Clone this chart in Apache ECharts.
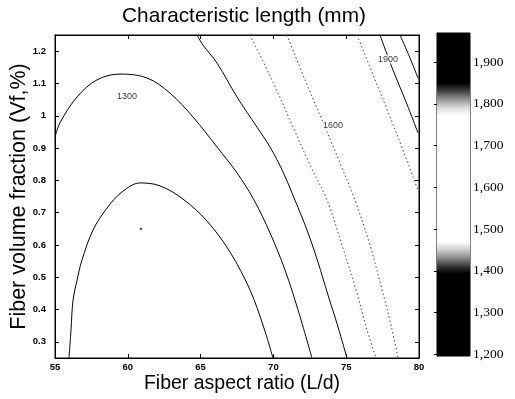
<!DOCTYPE html>
<html>
<head>
<meta charset="utf-8">
<script src="https://cdn.jsdelivr.net/npm/echarts@6/dist/echarts.min.js"></script>
<style>html,body{margin:0;padding:0;background:#fff}#c{width:515px;height:399px}</style>
</head>
<body>
<div id="c"></div>
<script>
// ---- data ----
const titleText = 'Characteristic length (mm)';
const xName = 'Fiber aspect ratio (L/d)';
const yName = 'Fiber volume fraction (Vf,%)';
const xTicks = [55, 60, 65, 70, 75, 80];
const yTicks = [0.3, 0.4, 0.5, 0.6, 0.7, 0.8, 0.9, 1.0, 1.1, 1.2];
const cbTicks = [1200, 1300, 1400, 1500, 1600, 1700, 1800, 1900];
const cbRange = [1196, 1970];

// contour levels: [L/d, Vf] pairs
const c1200 = [[55.96,0.25],[56.10,0.337],[56.24,0.43],[56.51,0.49],[56.85,0.553],[57.61,0.646],[58.57,0.714],[59.60,0.764],[60.84,0.792],[62.21,0.783],[63.79,0.742],[65.44,0.674],[67.02,0.578],[68.39,0.461],[69.35,0.343],[69.97,0.25]];
const c1300 = [[55.0,0.934],[55.34,0.978],[56.51,1.058],[57.88,1.111],[59.46,1.129],[61.32,1.117],[62.90,1.070],[64.48,0.996],[66.13,0.903],[67.50,0.823],[68.67,0.739],[69.77,0.637],[70.80,0.522],[71.69,0.399],[72.65,0.25]];
const c1400 = [[64.75,1.25],[65.16,1.219],[66.13,1.163],[67.50,1.058],[68.87,0.965],[69.77,0.903],[70.66,0.826],[71.48,0.739],[72.31,0.646],[73.06,0.547],[73.75,0.445],[74.44,0.346],[75.05,0.25]];
const c1500 = [[68.39,1.25],[69.90,1.111],[71.35,0.965],[72.51,0.848],[73.68,0.739],[74.71,0.600],[75.67,0.461],[76.43,0.337],[77.05,0.25]];
const c1600 = [[70.93,1.25],[72.17,1.111],[73.54,0.965],[74.57,0.854],[75.60,0.739],[76.63,0.600],[77.46,0.461],[78.08,0.352],[78.56,0.25]];
const c1700 = [[75.74,1.25],[76.77,1.135],[77.87,1.012],[78.97,0.885],[80.0,0.761]];
const c1800 = [[77.32,1.25],[78.21,1.142],[79.11,1.043],[79.93,0.947]];
const c1900 = [[78.70,1.25],[79.38,1.179],[79.93,1.117]];
const minPoint = [[60.9, 0.65]];
const contourLabels = [['1300', 59.95, 1.061], ['1600', 74.09, 0.969], ['1900', 77.87, 1.175]];

// colour bar grey scale stops: [value, grey]
const cbStops = [[1970,'#000000'],[1850,'#000000'],[1830,'#444444'],[1810,'#999999'],[1790,'#dddddd'],[1772,'#ffffff'],[1470,'#ffffff'],[1450,'#cccccc'],[1430,'#888888'],[1410,'#333333'],[1393,'#000000'],[1196,'#000000']];

// ---- chart ----
const chart = echarts.init(document.getElementById('c'), null, {renderer: 'canvas'});
const sans = 'Liberation Sans, Arial, sans-serif';
const serif = 'Liberation Serif, Times New Roman, serif';
const fmtComma = v => String(v).replace(/\B(?=(\d{3})+(?!\d))/g, ',');

const solid = {color: '#000', width: 1, type: 'solid'};
const faint = {color: '#444', width: 1, type: [1.5, 2.5]};
function contour(name, data, style) {
  return {name, type: 'line', data, xAxisIndex: 0, yAxisIndex: 0, smooth: 0.35,
    showSymbol: false, symbol: 'none', lineStyle: style, silent: true, z: 3};
}
const span = cbRange[1] - cbRange[0];
const gradStops = cbStops.map(s => ({offset: (cbRange[1] - s[0]) / span, color: s[1]}));

const tickStyle = {show: true, inside: true, length: 4, lineStyle: {color: '#000', width: 1}};
const lineStyle = {show: true, lineStyle: {color: '#000', width: 1}};

chart.setOption({
  animation: false,
  backgroundColor: '#fff',
  title: {text: titleText, left: 239, top: 1, textAlign: 'center',
    textStyle: {fontFamily: sans, fontSize: 20.8, fontWeight: 'normal', color: '#000'}},
  grid: [
    {left: 55, right: 96, top: 35, bottom: 41, outerBoundsMode: 'none', containLabel: false,
      show: true, borderColor: '#000', borderWidth: 1, backgroundColor: '#fff'},
    {left: 437, width: 33, top: 33, bottom: 43, outerBoundsMode: 'none', containLabel: false,
      show: true, borderColor: '#000', borderWidth: 1, backgroundColor: 'transparent'}
  ],
  xAxis: [
    {type: 'value', gridIndex: 0, min: 55, max: 80, interval: 5, position: 'bottom',
      name: xName, nameLocation: 'middle', nameGap: 16, nameMoveOverlap: false,
      nameTextStyle: {fontFamily: sans, fontSize: 19.5, color: '#000', padding: [0, 0, 0, 10]},
      axisLine: lineStyle, axisTick: tickStyle, splitLine: {show: false},
      axisLabel: {fontFamily: sans, fontSize: 9.5, fontWeight: 'bold', color: '#000', margin: 4}},
    {type: 'value', gridIndex: 0, min: 55, max: 80, interval: 5, position: 'top',
      axisLine: lineStyle, axisTick: tickStyle, splitLine: {show: false}, axisLabel: {show: false}},
    {type: 'value', gridIndex: 1, min: 0, max: 1, show: false}
  ],
  yAxis: [
    {type: 'value', gridIndex: 0, min: 0.25, max: 1.25, position: 'left',
      name: yName, nameLocation: 'middle', nameGap: 25, nameMoveOverlap: false,
      nameTextStyle: {fontFamily: sans, fontSize: 21.5, color: '#000'},
      axisLine: lineStyle, splitLine: {show: false},
      axisTick: Object.assign({}, tickStyle, {customValues: yTicks}),
      axisLabel: {customValues: yTicks, fontFamily: sans, fontSize: 9.5, fontWeight: 'bold', color: '#000', margin: 9}},
    {type: 'value', gridIndex: 0, min: 0.25, max: 1.25, position: 'right',
      axisLine: lineStyle, splitLine: {show: false},
      axisTick: Object.assign({}, tickStyle, {customValues: yTicks}), axisLabel: {show: false}},
    {type: 'value', gridIndex: 1, min: cbRange[0], max: cbRange[1], position: 'right',
      axisLine: lineStyle, splitLine: {show: false},
      axisTick: Object.assign({}, tickStyle, {customValues: cbTicks, length: 3}),
      axisLabel: {customValues: cbTicks, formatter: fmtComma, fontFamily: serif, fontSize: 13.5, color: '#000', margin: 3}},
    {type: 'value', gridIndex: 1, min: cbRange[0], max: cbRange[1], position: 'left',
      axisLine: lineStyle, splitLine: {show: false},
      axisTick: Object.assign({}, tickStyle, {customValues: cbTicks, length: 3}), axisLabel: {show: false}}
  ],
  series: [
    {type: 'custom', xAxisIndex: 2, yAxisIndex: 2, silent: true, z: 1,
      data: [[0, cbRange[0], 1, cbRange[1]]],
      renderItem: function (params, api) {
        const p0 = api.coord([api.value(0), api.value(3)]);
        const p1 = api.coord([api.value(2), api.value(1)]);
        return {type: 'rect', shape: {x: p0[0], y: p0[1], width: p1[0] - p0[0], height: p1[1] - p0[1]},
          style: {fill: new echarts.graphic.LinearGradient(0, 0, 0, 1, gradStops)}};
      }},
    contour('1200', c1200, solid),
    contour('1300', c1300, solid),
    contour('1400', c1400, solid),
    contour('1500', c1500, faint),
    contour('1600', c1600, faint),
    contour('1700', c1700, faint),
    contour('1800', c1800, solid),
    contour('1900', c1900, solid),
    {type: 'scatter', xAxisIndex: 0, yAxisIndex: 0, data: minPoint, symbol: 'rect', symbolSize: 2,
      itemStyle: {color: '#000'}, silent: true},
    {type: 'scatter', xAxisIndex: 0, yAxisIndex: 0, symbolSize: 0, silent: true, z: 5,
      data: contourLabels.map(l => ({name: l[0], value: [l[1], l[2]]})),
      label: {show: true, position: 'inside', formatter: p => p.name,
        fontFamily: sans, fontSize: 9, color: '#000', backgroundColor: '#fff', padding: [0, 1]}}
  ]
});
</script>
</body>
</html>
